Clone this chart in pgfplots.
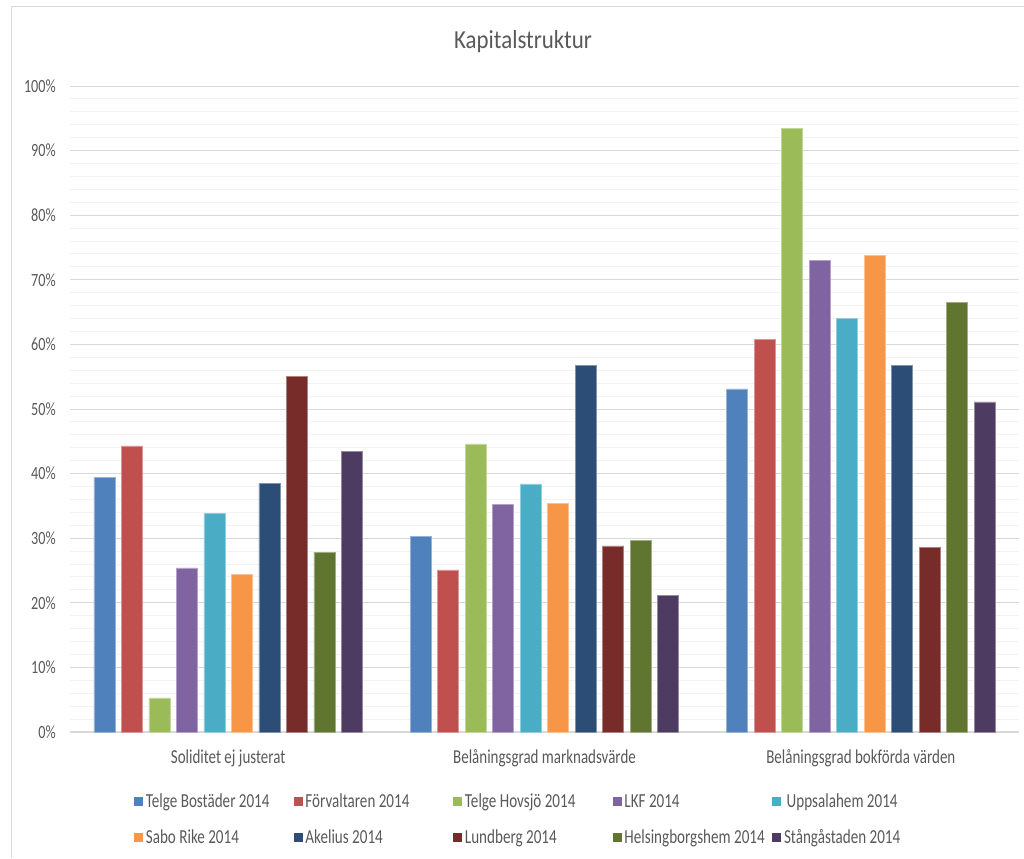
\documentclass[border=0pt]{standalone}
\usepackage{fontspec}
\setmainfont{Carlito}[FakeStretch=0.76]
\newfontfamily\titlefont{Carlito}[FakeStretch=0.88]
\usepackage{pgfplots}
\pgfplotsset{compat=1.18}

\definecolor{cTB}{HTML}{4F81BD}
\definecolor{cFV}{HTML}{C0504D}
\definecolor{cTH}{HTML}{9BBB59}
\definecolor{cLKF}{HTML}{8064A2}
\definecolor{cUH}{HTML}{4BACC6}
\definecolor{cSR}{HTML}{F79646}
\definecolor{cAK}{HTML}{2C4D75}
\definecolor{cLB}{HTML}{772C2A}
\definecolor{cHH}{HTML}{5F7530}
\definecolor{cSS}{HTML}{4D3B62}
\definecolor{textgray}{HTML}{595959}
\definecolor{gridmajor}{HTML}{D9D9D9}
\definecolor{gridminor}{HTML}{F2F2F2}
\definecolor{bordergray}{HTML}{D9D9D9}

% 1 px of the reference = 0.75pt
\begin{document}
\begin{tikzpicture}
\path[use as bounding box] (0,0) rectangle (768pt,-643.5pt);
\draw[bordergray, line width=0.75pt] (8.25pt,-643.5pt) -- (8.25pt,-4.5pt) -- (768pt,-4.5pt);
\node[font=\titlefont\fontsize{19.5}{23}\selectfont, text=textgray] at (392.25pt,-31.5pt) {Kapitalstruktur};

\begin{axis}[
    at={(52.5pt,-549pt)}, anchor=south west,
    scale only axis,
    width=711.75pt, height=484.5pt,
    ybar=4.875pt, bar width=15.75pt,
    xmin=-0.5, xmax=2.5, ymin=0, ymax=100,
    xtick={0,1,2},
    xticklabels={Soliditet ej justerat, Belåningsgrad marknadsvärde, Belåningsgrad bokförda värden},
    ytick={0,10,...,100},
    /pgf/number format/assume math mode=true,
    yticklabel={\pgfmathprintnumber{\tick}\%},
    minor y tick num=4,
    ymajorgrids, yminorgrids,
    major grid style={draw=gridmajor, line width=0.75pt},
    minor grid style={draw=gridminor, line width=0.75pt},
    axis x line*=bottom, axis y line*=left,
    x axis line style={draw=gridmajor, line width=0.9pt, -},
    y axis line style={draw=none},
    major tick length=0pt, minor tick length=0pt,
    tick style={draw=none},
    yticklabel style={font=\fontsize{14}{16}\selectfont, text=textgray, anchor=east, inner sep=0pt, xshift=-10.5pt},
    xticklabel style={font=\fontsize{14.8}{18}\selectfont, text=textgray, anchor=base, inner sep=0pt, yshift=-23.25pt},
    clip=false,
    legend columns=5,
    legend style={at={(rel axis cs:0.0674,-0.093)}, anchor=north west, draw=none, fill=none,
        inner sep=0pt, row sep=13pt, font=\fontsize{14.9}{18}\selectfont, text=textgray,
        nodes={inner xsep=2pt, inner ysep=0pt, text height=11pt, text depth=3pt},
        /tikz/every even column/.append style={column sep=0pt}},
    legend image code/.code={\path[#1, draw=none] (0pt,-3.4pt) rectangle (6.75pt,3.4pt);},
]
\addplot[fill=cTB, draw=cTB!60!white, line width=0.4pt] coordinates {(0,39.4) (1,30.3) (2,53.1)};
\addlegendentry{\makebox[108.9pt][l]{Telge Bostäder 2014}}
\addplot[fill=cFV, draw=cFV!60!white, line width=0.4pt] coordinates {(0,44.3) (1,25.1) (2,60.8)};
\addlegendentry{\makebox[108.9pt][l]{Förvaltaren 2014}}
\addplot[fill=cTH, draw=cTH!60!white, line width=0.4pt] coordinates {(0,5.3) (1,44.6) (2,93.4)};
\addlegendentry{\makebox[108.9pt][l]{Telge Hovsjö 2014}}
\addplot[fill=cLKF, draw=cLKF!60!white, line width=0.4pt] coordinates {(0,25.4) (1,35.2) (2,73.0)};
\addlegendentry{\makebox[108.9pt][l]{LKF 2014}}
\addplot[fill=cUH, draw=cUH!60!white, line width=0.4pt] coordinates {(0,33.8) (1,38.4) (2,64.0)};
\addlegendentry{Uppsalahem 2014}
\addplot[fill=cSR, draw=cSR!60!white, line width=0.4pt] coordinates {(0,24.4) (1,35.4) (2,73.8)};
\addlegendentry{\makebox[108.9pt][l]{Sabo Rike 2014}}
\addplot[fill=cAK, draw=cAK!60!white, line width=0.4pt] coordinates {(0,38.5) (1,56.8) (2,56.7)};
\addlegendentry{\makebox[108.9pt][l]{Akelius 2014}}
\addplot[fill=cLB, draw=cLB!60!white, line width=0.4pt] coordinates {(0,55.1) (1,28.8) (2,28.6)};
\addlegendentry{\makebox[108.9pt][l]{Lundberg 2014}}
\addplot[fill=cHH, draw=cHH!60!white, line width=0.4pt] coordinates {(0,27.8) (1,29.7) (2,66.5)};
\addlegendentry{\makebox[108.9pt][l]{Helsingborgshem 2014}}
\addplot[fill=cSS, draw=cSS!60!white, line width=0.4pt] coordinates {(0,43.5) (1,21.1) (2,51.1)};
\addlegendentry{Stångåstaden 2014}
\end{axis}
\end{tikzpicture}
\end{document}
